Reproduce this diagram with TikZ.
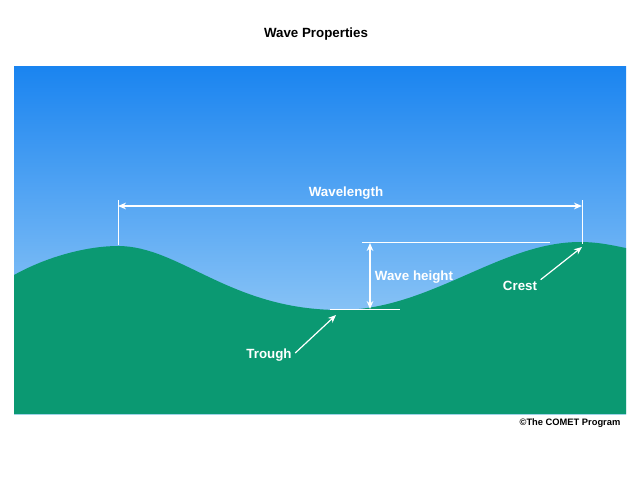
\documentclass[tikz,border=0pt]{standalone}
\usepackage{fontspec}
\setmainfont{Liberation Sans}
\usetikzlibrary{arrows.meta}
\definecolor{skytop}{HTML}{1A84F0}
\definecolor{skybot}{HTML}{B4DCF8}
\definecolor{sea}{HTML}{0B9972}
\tikzset{lbl/.style={text=white,font=\bfseries\fontsize{10}{12}\selectfont,inner sep=1pt},
 wl/.style={white,line width=0.9pt},
 ar/.style={wl,-{Stealth[length=6pt,width=5pt]}},
 darr/.style={wl,{Stealth[length=6pt,width=5pt]}-{Stealth[length=6pt,width=5pt]}}}
\begin{document}
\begin{tikzpicture}[x=0.75pt,y=-0.75pt]
\useasboundingbox (0,0) rectangle (640,480);
\fill[white] (0,0) rectangle (640,480);
\shade[top color=skytop,bottom color=skybot] (14,66) rectangle (626,414);
\fill[sea] (14,275) .. controls (50,255) and (90,246) .. (118,246)
 .. controls (180,246) and (230,310) .. (340,310)
 .. controls (430,310) and (500,242) .. (580,242)
 .. controls (600,242) and (615,246) .. (626,248) -- (626,414) -- (14,414) -- cycle;
\node[font=\bfseries\fontsize{10}{12}\selectfont] (title) at (316,34) {Wave Properties};
\coordinate (wl1) at (118,206); \coordinate (wl2) at (582,206);
\draw[wl,line width=0.6pt] (118,200) -- (118,245);
\draw[wl,line width=0.6pt] (582,200) -- (582,244);
\draw[darr] (wl1) -- (wl2);
\node[lbl] (wavelength) at (346,193) {Wavelength};
\draw[wl,line width=0.6pt] (362,242) -- (550,242);
\draw[wl,line width=0.6pt] (330,309) -- (400,309);
\coordinate (h1) at (370,243); \coordinate (h2) at (370,309);
\draw[darr] (h1) -- (h2);
\node[lbl] (height) at (414,277) {Wave height};
\node[lbl] (crest) at (520,286) {Crest};
\coordinate (crestpt) at (582,247);
\draw[ar] (crest.north east) ++(2,0) -- (crestpt);
\node[lbl] (trough) at (269,355) {Trough};
\coordinate (troughpt) at (336,315);
\draw[ar] (trough.east) ++(2,-2) -- (troughpt);
\node[font=\bfseries\fontsize{7}{8}\selectfont] (copy) at (570,423) {©The COMET Program};
\end{tikzpicture}
\end{document}
